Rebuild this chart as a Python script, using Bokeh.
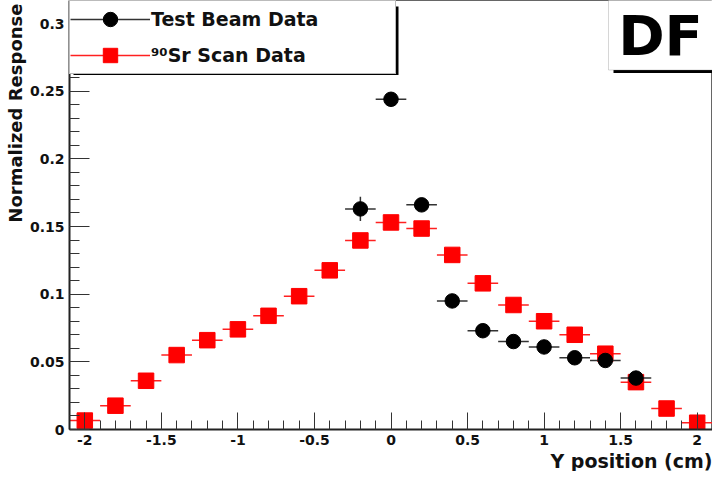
import numpy as np
from bokeh.plotting import figure
from bokeh.models import (ColumnDataSource, Range1d, FixedTicker, Legend, LegendItem,
                          BoxAnnotation, Label, Title)
from bokeh.embed import file_html
from bokeh.resources import INLINE

# ---------------- data ----------------
tb_x = [-0.2, 0.0, 0.2, 0.4, 0.6, 0.8, 1.0, 1.2, 1.4, 1.6]
tb_y = [0.163, 0.244, 0.166, 0.095, 0.073, 0.065, 0.061, 0.053, 0.051, 0.038]
tb_yerr = [0.009, 0.003, 0.004, 0.003, 0.003, 0.003, 0.003, 0.003, 0.003, 0.003]

sr_x = [-2.0, -1.8, -1.6, -1.4, -1.2, -1.0, -0.8, -0.6, -0.4, -0.2, 0.0,
        0.2, 0.4, 0.6, 0.8, 1.0, 1.2, 1.4, 1.6, 1.8, 2.0]
sr_y = [0.0066, 0.0176, 0.036, 0.055, 0.066, 0.074, 0.084, 0.0985, 0.1176, 0.1397, 0.153,
        0.1485, 0.129, 0.108, 0.092, 0.080, 0.070, 0.056, 0.035, 0.0155, 0.005]
bin_half_width = 0.1

x_ticks = [-2.0, -1.5, -1.0, -0.5, 0.0, 0.5, 1.0, 1.5, 2.0]
x_tick_labels = ["-2", "-1.5", "-1", "-0.5", "0", "0.5", "1", "1.5", "2"]
y_ticks = [0.0, 0.05, 0.1, 0.15, 0.2, 0.25, 0.3]
y_tick_labels = ["0", "0.05", "0.1", "0.15", "0.2", "0.25", "0.3"]

x0, x1 = -2.1, 2.1
y0, y1 = 0.0, 0.317

FONT = "DejaVu Sans"

# ---------------- figure ----------------
W, H = 712, 471
ML, MR, MT, MB = 69, 0, 0, 39
p = figure(width=W, height=H, output_backend="svg", toolbar_location=None, title=None,
           x_range=Range1d(x0, x1), y_range=Range1d(y0, y1),
           min_border_left=ML, min_border_right=MR, min_border_top=MT, min_border_bottom=MB)
p.grid.visible = False
p.background_fill_color = "white"
p.border_fill_color = "white"
p.outline_line_color = "#666666"
p.outline_line_width = 1

fw, fh = W - ML - MR, H - MT - MB
pxx = fw / (x1 - x0)
pxy = fh / (y1 - y0)

# axes
xminor = [round(v, 2) for v in np.arange(-2.1, 2.1001, 0.1)]
yminor = [round(v, 3) for v in np.arange(0.0, 0.3171, 0.01)]
p.xaxis.ticker = FixedTicker(ticks=x_ticks, minor_ticks=xminor)
p.yaxis.ticker = FixedTicker(ticks=y_ticks, minor_ticks=yminor)
p.xaxis.major_label_overrides = {t: l for t, l in zip(x_ticks, x_tick_labels)}
p.yaxis.major_label_overrides = {t: l for t, l in zip(y_ticks, y_tick_labels)}
for ax in (p.xaxis, p.yaxis):
    ax.axis_line_color = "#222222"
    ax.axis_line_width = 2
    ax.major_tick_line_color = "#333333"
    ax.minor_tick_line_color = "#333333"
    ax.major_tick_out = 0
    ax.minor_tick_out = 0
    ax.major_label_text_font = FONT
    ax.major_label_text_font_style = "bold"
    ax.major_label_text_font_size = "14px"
    ax.major_label_text_color = "#111111"
p.yaxis.major_tick_in = 20
p.yaxis.minor_tick_in = 10
p.xaxis.major_tick_in = 17
p.xaxis.minor_tick_in = 9
p.yaxis.major_label_standoff = 5
p.xaxis.major_label_standoff = 5

# axis titles, ROOT style (aligned to the axis end)
p.add_layout(Title(text="Normalized Response", align="right", standoff=2, offset=3,
                   text_font=FONT, text_font_style="bold", text_font_size="18px",
                   text_color="#111111"), "left")
p.add_layout(Title(text="Y position (cm)", align="right", standoff=0,
                   text_font=FONT, text_font_style="bold", text_font_size="19px",
                   text_color="#111111"), "below")

# ---------------- data marks ----------------
tb = ColumnDataSource(dict(
    x=tb_x, y=tb_y,
    xl=[v - bin_half_width for v in tb_x], xr=[v + bin_half_width for v in tb_x],
    yl=[a - b for a, b in zip(tb_y, tb_yerr)], yh=[a + b for a, b in zip(tb_y, tb_yerr)]))
sr = ColumnDataSource(dict(
    x=sr_x, y=sr_y,
    xl=[v - bin_half_width for v in sr_x], xr=[v + bin_half_width for v in sr_x]))

sr_err = p.segment("xl", "y", "xr", "y", source=sr, line_color="#ff2020", line_width=1.5)
sr_mk = p.scatter("x", "y", source=sr, marker="square", size=15.5,
                  fill_color="#ff0000", line_color="#ff0000")
tb_err = p.segment("xl", "y", "xr", "y", source=tb, line_color="#333333", line_width=1.5)
tb_verr = p.segment("x", "yl", "x", "yh", source=tb, line_color="#333333", line_width=1.5)
tb_mk = p.scatter("x", "y", source=tb, marker="circle", size=14.5,
                  fill_color="black", line_color="black")

# ---------------- legend with shadow ----------------
leg_w, leg_h = 325, 72
p.add_layout(BoxAnnotation(left=x0 + 4 / pxx, right=x0 + (leg_w + 4) / pxx,
                           top=y1 - 6 / pxy, bottom=y1 - (leg_h + 3) / pxy,
                           fill_color="black", fill_alpha=1.0, line_alpha=0))
legend = Legend(items=[
    LegendItem(label="Test Beam Data", renderers=[tb_err, tb_mk]),
    LegendItem(label="\u2079\u2070Sr Scan Data", renderers=[sr_err, sr_mk]),
], location="top_left", margin=0, padding=0, spacing=0,
    glyph_width=80, glyph_height=36, label_height=36, label_standoff=1, label_width=244,
    label_text_font=FONT, label_text_font_style="bold", label_text_font_size="19px",
    label_text_color="#111111", label_text_baseline="middle",
    border_line_color="#777777", border_line_width=1,
    background_fill_color="white", background_fill_alpha=1.0)
p.add_layout(legend)

# ---------------- DF box ----------------
df_w, df_h = 104, 70
p.add_layout(BoxAnnotation(left=x1 - (df_w - 5) / pxx, right=x1 + 10 / pxx,
                           top=y1 - 6 / pxy, bottom=y1 - (df_h + 3) / pxy,
                           fill_color="black", fill_alpha=1.0, line_alpha=0))
p.add_layout(BoxAnnotation(left=x1 - df_w / pxx, right=x1 + 2 / pxx,
                           top=y1 + 2 / pxy, bottom=y1 - df_h / pxy,
                           fill_color="white", fill_alpha=1.0,
                           line_color="#777777", line_width=1))
p.add_layout(Label(x=x1 - df_w / 2 / pxx, y=y1 - 35 / pxy, text="DF",
                   text_align="center", text_baseline="middle",
                   text_font=FONT, text_font_style="bold", text_font_size="56px",
                   text_color="black"))

open("out.html", "w").write(file_html(p, INLINE))
